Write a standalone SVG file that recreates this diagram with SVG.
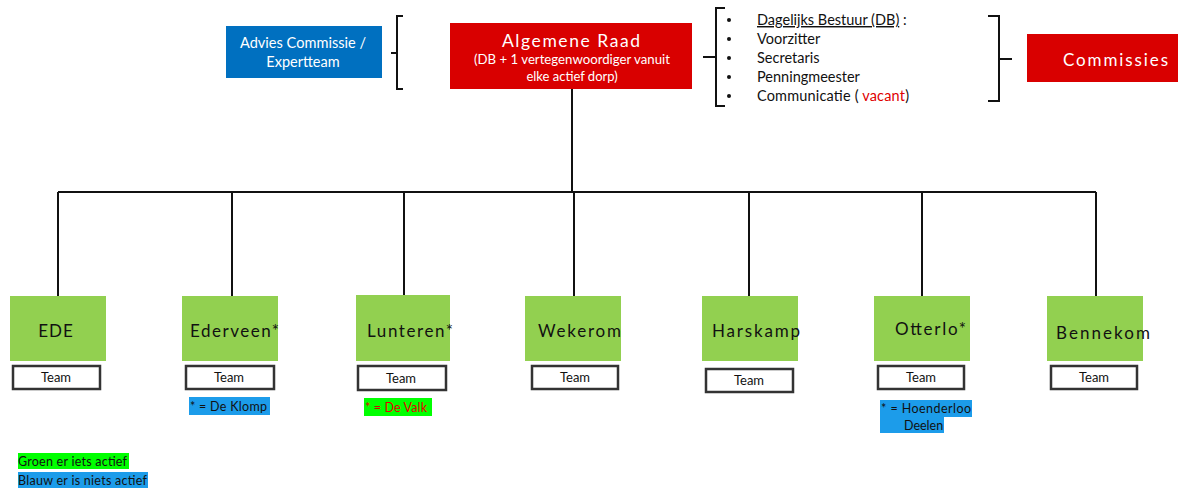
<svg xmlns="http://www.w3.org/2000/svg" width="1178" height="488" viewBox="0 0 1178 488">
<style>
text{font-family:Lato,"Open Sans","Liberation Sans",sans-serif}
.node{fill:#92D050}
.lbl{font-size:17px;fill:#111;text-anchor:middle;letter-spacing:1px}
.team{fill:#fff;stroke:#333;stroke-width:2.5}
.tt{font-size:13px;fill:#111;text-anchor:middle}
.wt{fill:#fff;text-anchor:middle}
.br{fill:none;stroke:#111;stroke-width:2}
.con{fill:none;stroke:#111;stroke-width:2}
.li{font-size:14.5px;fill:#111}
.note{font-size:12.5px;fill:#111}
.red{fill:#E00000}
</style>
<rect width="1178" height="488" fill="#fff"/>

<g id="connectors">
<path class="con" d="M572,89 V192" stroke-width="3"/>
<path class="con" d="M58,192 H572" stroke="#333"/>
<path class="con" d="M572,192 H1096" stroke-width="2.5"/>
<path class="con" d="M58,192 V296 M232,192 V296 M404,192 V295 M574,192 V296 M749,192 V296 M922,192 V296 M1096,192 V296"/>
</g>

<g id="advies">
<rect x="226" y="26" width="156" height="52" fill="#0070C0"/>
<text class="wt" x="303" y="48" font-size="14.5" textLength="126" lengthAdjust="spacingAndGlyphs">Advies Commissie /</text>
<text class="wt" x="303" y="67" font-size="14.5">Expertteam</text>
</g>
<g id="brace-left"><path class="br" d="M403,16 H397 V89 H403 M391,53 H397"/></g>

<g id="algemene-raad">
<rect x="450" y="23" width="242" height="66" fill="#D90000"/>
<text class="wt" x="571" y="47" font-size="17.5" textLength="138" lengthAdjust="spacing">Algemene Raad</text>
<text class="wt" x="572" y="64" font-size="13" textLength="196" lengthAdjust="spacingAndGlyphs">(DB + 1 vertegenwoordiger vanuit</text>
<text class="wt" x="572" y="81" font-size="13">elke actief dorp)</text>
</g>

<g id="db-list">
<path class="br" d="M725,8 H716 V106 H725 M703,57 H716"/>
<g fill="#111">
<circle cx="729" cy="20" r="2"/><circle cx="729" cy="39" r="2"/><circle cx="729" cy="58" r="2"/><circle cx="729" cy="77" r="2"/><circle cx="729" cy="96" r="2"/>
</g>
<text class="li" x="757" y="25"><tspan text-decoration="underline">Dagelijks Bestuur (DB)</tspan> :</text>
<text class="li" x="757" y="44">Voorzitter</text>
<text class="li" x="757" y="63">Secretaris</text>
<text class="li" x="757" y="82">Penningmeester</text>
<text class="li" x="757" y="101" textLength="152" lengthAdjust="spacing">Communicatie ( <tspan class="red">vacant</tspan>)</text>
<path class="br" d="M988,16 H999 V101 H988 M999,59 H1012"/>
</g>

<g id="commissies">
<rect x="1027" y="34" width="151" height="48" fill="#D90000"/>
<text x="1063" y="66" font-size="17" fill="#fff" textLength="105" lengthAdjust="spacing">Commissies</text>
</g>

<g id="ede">
<rect class="node" x="10" y="296" width="96" height="65"/>
<text class="lbl" x="56" y="337">EDE</text>
<rect class="team" x="13" y="366" width="87" height="23"/>
<text class="tt" x="56" y="382">Team</text>
</g>

<g id="ederveen">
<rect class="node" x="182" y="296" width="96" height="65"/>
<text x="190" y="337" font-size="17" fill="#111" textLength="89" lengthAdjust="spacing">Ederveen*</text>
<rect class="team" x="186" y="366" width="88" height="23"/>
<text class="tt" x="229" y="382">Team</text>
<rect x="189" y="397" width="81" height="18" fill="#1C9CEA"/>
<text class="note" x="190" y="411" textLength="77" lengthAdjust="spacing">* = De Klomp</text>
</g>

<g id="lunteren">
<rect class="node" x="356" y="295" width="94" height="66"/>
<text x="367" y="337" font-size="17" fill="#111" textLength="86" lengthAdjust="spacing">Lunteren*</text>
<rect class="team" x="358" y="366" width="88" height="24"/>
<text class="tt" x="401" y="383">Team</text>
<rect x="364" y="398" width="68" height="18" fill="#00FF00"/>
<text class="note red" x="365" y="412" textLength="62" lengthAdjust="spacing">* = De Valk</text>
</g>

<g id="wekerom">
<rect class="node" x="525" y="296" width="96" height="65"/>
<text x="538" y="337" font-size="17" fill="#111" textLength="83" lengthAdjust="spacing">Wekerom</text>
<rect class="team" x="532" y="366" width="86" height="23"/>
<text class="tt" x="575" y="382">Team</text>
</g>

<g id="harskamp">
<rect class="node" x="702" y="296" width="96" height="65"/>
<text x="712" y="337" font-size="17" fill="#111" textLength="88" lengthAdjust="spacing">Harskamp</text>
<rect class="team" x="706" y="369" width="87" height="23"/>
<text class="tt" x="749" y="385">Team</text>
</g>

<g id="otterlo">
<rect class="node" x="874" y="296" width="96" height="65"/>
<text x="895" y="335" font-size="17" fill="#111" textLength="71" lengthAdjust="spacing">Otterlo*</text>
<rect class="team" x="878" y="366" width="86" height="23"/>
<text class="tt" x="921" y="382">Team</text>
<rect x="880" y="400" width="92" height="17" fill="#1C9CEA"/>
<rect x="880" y="416" width="64" height="17" fill="#1C9CEA"/>
<text class="note" x="881" y="413" textLength="90" lengthAdjust="spacing">* = Hoenderloo</text>
<text class="note" x="904" y="430">Deelen</text>
</g>

<g id="bennekom">
<rect class="node" x="1047" y="296" width="96" height="65"/>
<text x="1056" y="339" font-size="17" fill="#111" textLength="94" lengthAdjust="spacing">Bennekom</text>
<rect class="team" x="1051" y="366" width="86" height="23"/>
<text class="tt" x="1094" y="382">Team</text>
</g>

<g id="legend">
<rect x="18" y="453" width="111" height="16" fill="#00FF00"/>
<text class="note" x="18" y="466" textLength="109" lengthAdjust="spacing">Groen er iets actief</text>
<rect x="18" y="472" width="130" height="16" fill="#1C9CEA"/>
<text class="note" x="18" y="485" textLength="129" lengthAdjust="spacing">Blauw er is niets actief</text>
</g>
</svg>
